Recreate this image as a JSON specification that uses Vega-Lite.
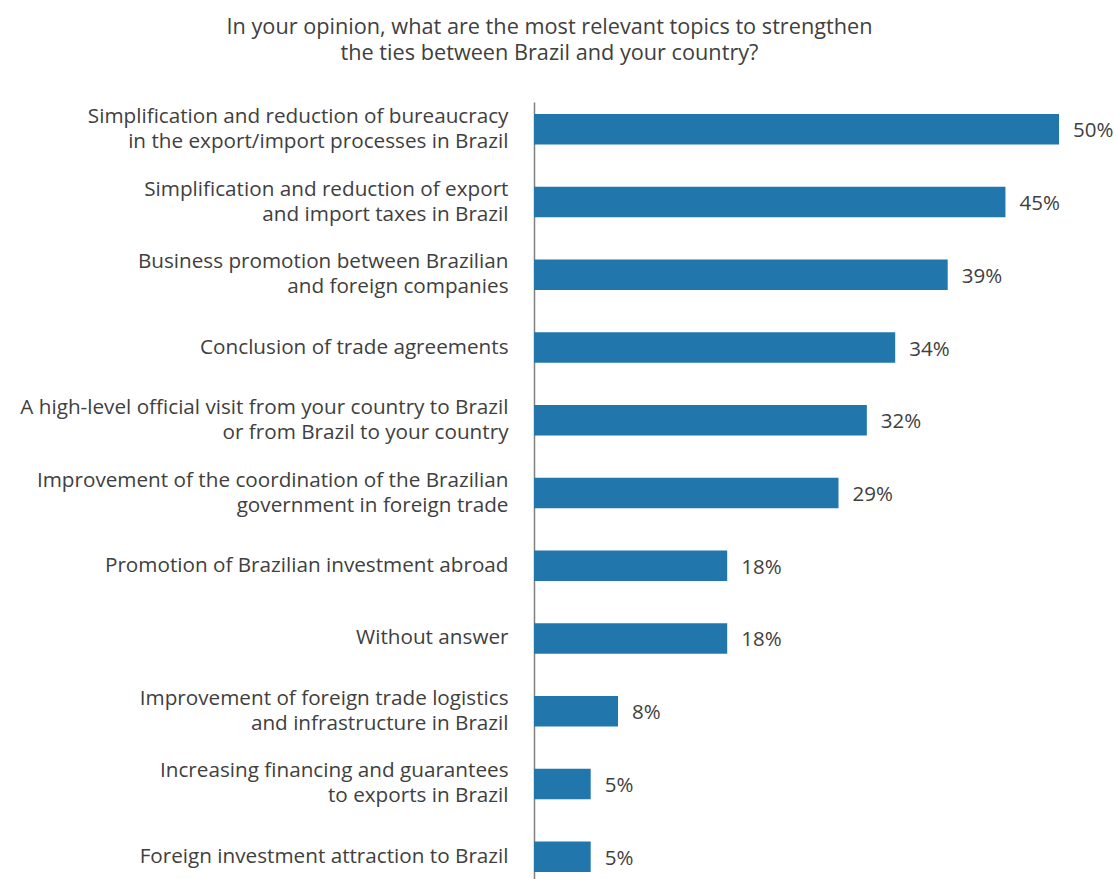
{
  "$schema": "https://vega.github.io/schema/vega-lite/v6.json",
  "autosize": "none",
  "width": 525,
  "height": 782,
  "padding": {"left": 534, "top": 102, "right": 57, "bottom": 0},
  "background": "white",
  "title": {
    "text": ["In your opinion, what are the most relevant topics to strengthen", "the ties between Brazil and your country?"],
    "anchor": "middle",
    "frame": "group",
    "dx": -247,
    "offset": 37,
    "font": "Open Sans",
    "fontSize": 21.7,
    "fontWeight": "normal",
    "color": "#404040",
    "lineHeight": 26
  },
  "data": {
    "values": [
      {"topic": "Simplification and reduction of bureaucracy|in the export/import processes in Brazil", "value": 0.5},
      {"topic": "Simplification and reduction of export|and import taxes in Brazil", "value": 0.449},
      {"topic": "Business promotion between Brazilian|and foreign companies", "value": 0.394},
      {"topic": "Conclusion of trade agreements", "value": 0.344},
      {"topic": "A high-level official visit from your country to Brazil|or from Brazil to your country", "value": 0.317},
      {"topic": "Improvement of the coordination of the Brazilian|government in foreign trade", "value": 0.29},
      {"topic": "Promotion of Brazilian investment abroad", "value": 0.184},
      {"topic": "Without answer", "value": 0.184},
      {"topic": "Improvement of foreign trade logistics|and infrastructure in Brazil", "value": 0.08},
      {"topic": "Increasing financing and guarantees|to exports in Brazil", "value": 0.054},
      {"topic": "Foreign investment attraction to Brazil", "value": 0.054}
    ]
  },
  "encoding": {
    "y": {
      "field": "topic",
      "type": "nominal",
      "sort": null,
      "scale": {"paddingInner": 0.58, "paddingOuter": 0.165},
      "axis": {
        "title": null,
        "ticks": false,
        "labelExpr": "split(datum.label, '|')",
        "labelFont": "Open Sans",
        "labelFontSize": 20.7,
        "labelColor": "#404040",
        "labelLineHeight": 25,
        "labelPadding": 26,
        "labelLimit": 0,
        "labelOffset": {"condition": {"test": "indexof(datum.value, '|') >= 0", "value": -12.5}, "value": 0},
        "domainColor": "#808080",
        "domainWidth": 1.5
      }
    },
    "x": {
      "field": "value",
      "type": "quantitative",
      "scale": {"domain": [0, 0.5]},
      "axis": null
    }
  },
  "layer": [
    {"mark": {"type": "bar", "color": "#2176ac"}},
    {
      "mark": {"type": "text", "align": "left", "baseline": "middle", "dx": 14, "dy": 2, "font": "Open Sans", "fontSize": 20.5, "color": "#404040"},
      "encoding": {"text": {"field": "value", "type": "quantitative", "format": ".0%"}}
    }
  ],
  "config": {"view": {"stroke": null}}
}
